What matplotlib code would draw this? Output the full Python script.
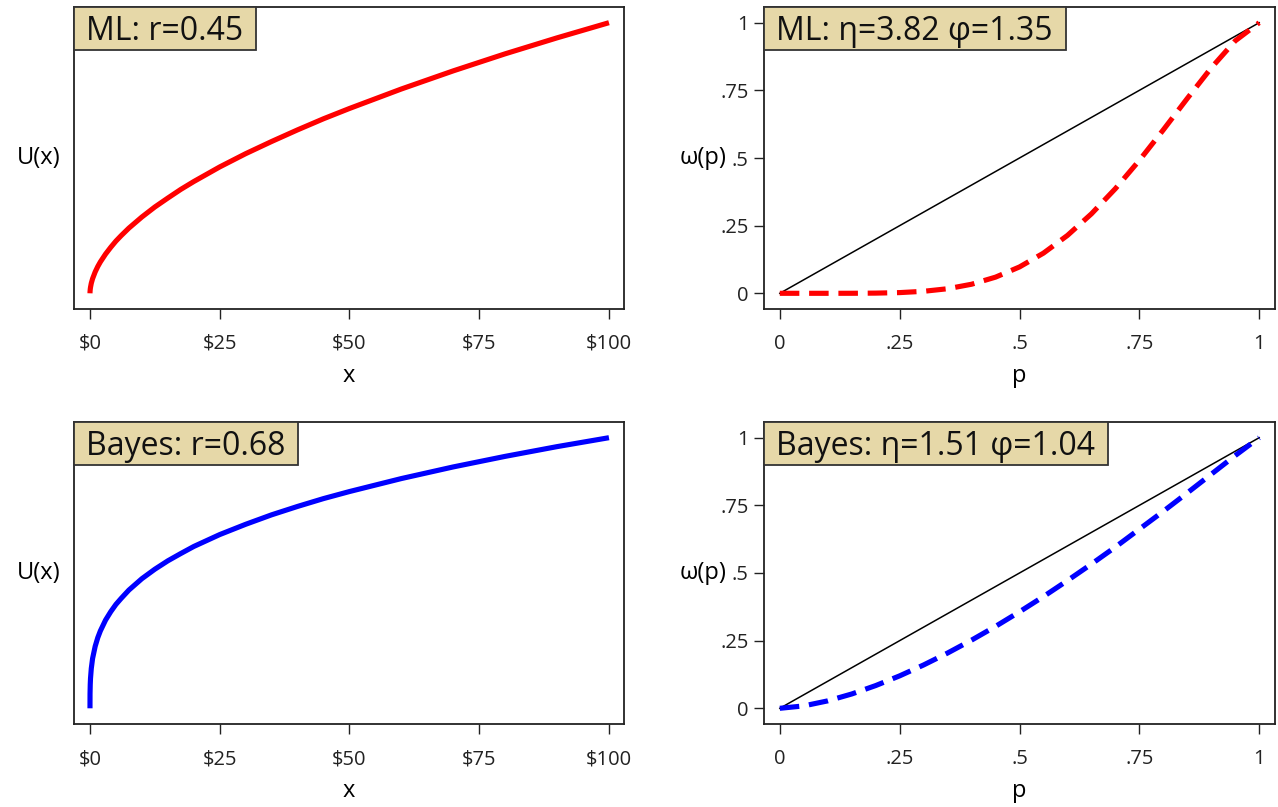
import matplotlib
matplotlib.use("Agg")
import matplotlib.pyplot as plt
from matplotlib.patches import Rectangle
from matplotlib.transforms import ScaledTranslation

plt.rcParams['font.family'] = ['Open Sans', 'DejaVu Sans']

# ---- data ----
x_vals = [0, 0.01, 0.05, 0.1, 0.25, 0.5, 1, 1.5, 2, 3, 4, 5, 6, 7.5, 10, 12.5, 15, 17.5,
          20, 25, 30, 35, 40, 45, 50, 60, 70, 80, 90, 100]
u_ml = [0, 0.006, 0.015, 0.022, 0.037, 0.054, 0.079, 0.099, 0.116, 0.145, 0.170, 0.193,
        0.213, 0.241, 0.282, 0.319, 0.352, 0.384, 0.413, 0.467, 0.516, 0.561, 0.604,
        0.645, 0.683, 0.755, 0.822, 0.885, 0.944, 1.0]
u_bayes = [0, 0.053, 0.088, 0.110, 0.147, 0.184, 0.229, 0.261, 0.286, 0.326, 0.357, 0.384,
           0.406, 0.437, 0.479, 0.514, 0.545, 0.572, 0.598, 0.642, 0.680, 0.715, 0.746,
           0.775, 0.801, 0.849, 0.892, 0.931, 0.967, 1.0]

p_vals = [0, 0.05, 0.1, 0.15, 0.2, 0.25, 0.3, 0.35, 0.4, 0.45, 0.5, 0.55, 0.6, 0.65,
          0.7, 0.75, 0.8, 0.85, 0.9, 0.95, 1.0]
w_ml = [0, 0.0, 0.0, 0.0001, 0.0007, 0.0026, 0.0074, 0.0169, 0.0335, 0.0597, 0.0974,
        0.1485, 0.2139, 0.2936, 0.3867, 0.4912, 0.604, 0.720, 0.833, 0.933, 1.0]
w_bayes = [0, 0.0089, 0.0275, 0.0529, 0.0840, 0.1199, 0.1602, 0.2043, 0.2519, 0.3027,
           0.3566, 0.413, 0.472, 0.533, 0.596, 0.662, 0.728, 0.796, 0.865, 0.934, 1.0]

diag = [0, 1]

x_ticks = [0, 25, 50, 75, 100]
x_ticklabels = ['$0', '$25', '$50', '$75', '$100']
p_ticks = [0, 0.25, 0.5, 0.75, 1]
p_ticklabels = ['0', '.25', '.5', '.75', '1']

ml_u_label = 'ML: r=0.45'
bayes_u_label = 'Bayes: r=0.68'
ml_w_label = 'ML: η=3.82 φ=1.35'
bayes_w_label = 'Bayes: η=1.51 φ=1.04'

# ---- figure ----
W, H = 1278, 807
DPI = 100
fig = plt.figure(figsize=(W / DPI, H / DPI), dpi=DPI)

def axrect(x0, y0, x1, y1):
    return [x0 / W, 1 - y1 / H, (x1 - x0) / W, (y1 - y0) / H]

ax_tl = fig.add_axes(axrect(74, 7, 624, 309))
ax_tr = fig.add_axes(axrect(764, 7, 1275, 309))
ax_bl = fig.add_axes(axrect(74, 422, 624, 724))
ax_br = fig.add_axes(axrect(764, 422, 1275, 724))

BOX_FC = '#E6D8A8'
TICK_FS = 14.5
LAB_FS = 17
BOX_FS = 23

renderer = fig.canvas.get_renderer()

def style(ax):
    for s in ax.spines.values():
        s.set_linewidth(1.3)
        s.set_color('#222222')
    ax.tick_params(direction='out', length=7, width=1.0, colors='#222222',
                   labelsize=TICK_FS, pad=11)
    ax.tick_params(axis='y', pad=4)

def label_box(ax, text):
    # text baseline 33 px below the top edge, 12 px in from the left edge
    tr = ax.transAxes + ScaledTranslation(12 / DPI, -33 / DPI, fig.dpi_scale_trans)
    t = ax.text(0, 1, text, transform=tr, ha='left', va='baseline',
                fontsize=BOX_FS, color='#111111', zorder=6)
    tw = t.get_window_extent(renderer).width
    axbb = ax.get_window_extent(renderer)
    bw = (tw + 25) / axbb.width
    bh = 43 / axbb.height
    ax.add_patch(Rectangle((0, 1 - bh), bw, bh, transform=ax.transAxes,
                           fc=BOX_FC, ec='#333333', lw=1.3, zorder=5, clip_on=False))

def util_panel(ax, vals, color, text):
    ax.plot(x_vals, vals, color=color, lw=3.7, solid_capstyle='butt')
    ax.set_xlim(-3.08, 102.9)
    ax.set_ylim(-0.058, 1.058)
    ax.set_xticks(x_ticks)
    ax.set_xticklabels(x_ticklabels)
    ax.set_yticks([])
    style(ax)
    ax.set_xlabel('x', fontsize=LAB_FS, labelpad=7)
    ax.set_ylabel('U(x)', fontsize=LAB_FS, rotation=0, ha='center', va='center')
    ax.yaxis.set_label_coords(-0.065, 0.5)
    label_box(ax, text)

def weight_panel(ax, vals, color, text):
    ax.plot(diag, diag, color='black', lw=1.1)
    ax.plot(p_vals, vals, color=color, lw=3.7, dashes=(3.8, 1.9), dash_capstyle='butt')
    ax.set_xlim(-0.033, 1.033)
    ax.set_ylim(-0.058, 1.058)
    ax.set_xticks(p_ticks)
    ax.set_xticklabels(p_ticklabels)
    ax.set_yticks(p_ticks)
    ax.set_yticklabels(p_ticklabels)
    style(ax)
    ax.set_xlabel('p', fontsize=LAB_FS, labelpad=7)
    ax.set_ylabel('ω(p)', fontsize=LAB_FS, rotation=0, ha='center', va='center')
    ax.yaxis.set_label_coords(-0.12, 0.5)
    label_box(ax, text)

util_panel(ax_tl, u_ml, '#FF0000', ml_u_label)
util_panel(ax_bl, u_bayes, '#0000FF', bayes_u_label)
weight_panel(ax_tr, w_ml, '#FF0000', ml_w_label)
weight_panel(ax_br, w_bayes, '#0000FF', bayes_w_label)

fig.savefig('out.png', dpi=DPI, facecolor='white')
